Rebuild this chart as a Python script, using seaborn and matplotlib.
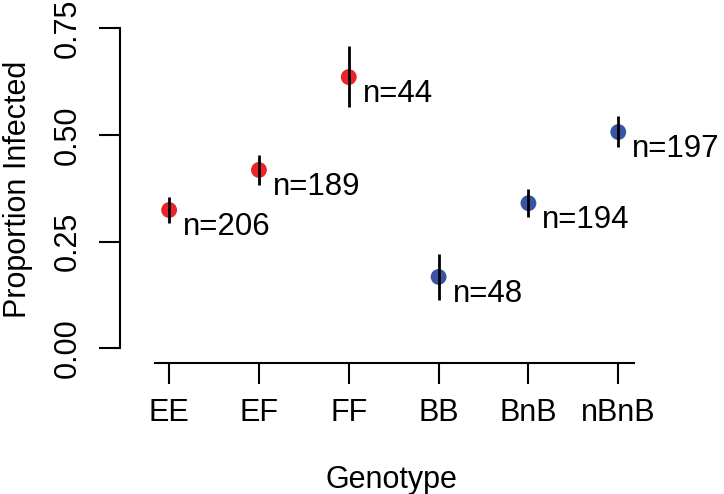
import matplotlib
matplotlib.use("Agg")
import matplotlib.pyplot as plt
import seaborn as sns
import pandas as pd

# Values
genotypes = ["EE", "EF", "FF", "BB", "BnB", "nBnB"]
groups = ["EF", "EF", "EF", "B", "B", "B"]
proportions = [0.324, 0.418, 0.636, 0.167, 0.340, 0.507]
lower = [0.293, 0.383, 0.566, 0.113, 0.308, 0.472]
upper = [0.354, 0.453, 0.709, 0.221, 0.373, 0.545]
sample_sizes = [206, 189, 44, 48, 194, 197]
y_ticks = [0.0, 0.25, 0.5, 0.75]
y_tick_labels = ["0.00", "0.25", "0.50", "0.75"]

df = pd.DataFrame({
    "genotype": genotypes,
    "group": groups,
    "prop": proportions,
    "lower": lower,
    "upper": upper,
    "n": sample_sizes,
})
df["pos"] = range(1, len(df) + 1)

sns.set_theme(style="ticks")
plt.rcParams["font.family"] = ["Liberation Sans", "DejaVu Sans"]

fig = plt.figure(figsize=(7.24, 4.94), dpi=100)
ax = fig.add_axes([0.166, 0.2652, 0.750, 0.703])

palette = {"EF": "#E8252B", "B": "#3A54A4"}
sns.scatterplot(data=df, x="pos", y="prop", hue="group", palette=palette,
                s=130, edgecolor="none", legend=False, ax=ax, zorder=2)
ax.vlines(df["pos"], df["lower"], df["upper"], color="black", lw=2, zorder=3)

# sample size labels next to each point
for _, row in df.iterrows():
    ax.annotate(f"n={row['n']}", (row["pos"], row["prop"]),
                xytext=(10, -12), textcoords="offset points",
                ha="left", va="center", fontsize=22.5, color="black",
                annotation_clip=False)

ax.set_xlim(0.455, 6.5)
ax.set_ylim(-0.035, 0.78)
ax.set_xticks(df["pos"], genotypes)
ax.set_yticks(y_ticks, y_tick_labels)

sns.despine(ax=ax)
ax.spines["left"].set_bounds(0, 0.75)
ax.spines["bottom"].set_bounds(0.84, 6.18)
for side in ["left", "bottom"]:
    ax.spines[side].set_linewidth(1.5)
    ax.spines[side].set_color("black")

ax.tick_params(length=15, width=1.5, labelsize=22, color="black", labelcolor="black")
ax.tick_params(axis="y", pad=12, labelrotation=90)
ax.tick_params(axis="x", pad=10)
for t in ax.get_yticklabels():
    t.set_va("center")

ax.set_xlabel("Genotype", fontsize=22, labelpad=27, color="black")
ax.set_ylabel("Proportion Infected", fontsize=22, labelpad=14, color="black")

fig.savefig("out.png", dpi=100)
